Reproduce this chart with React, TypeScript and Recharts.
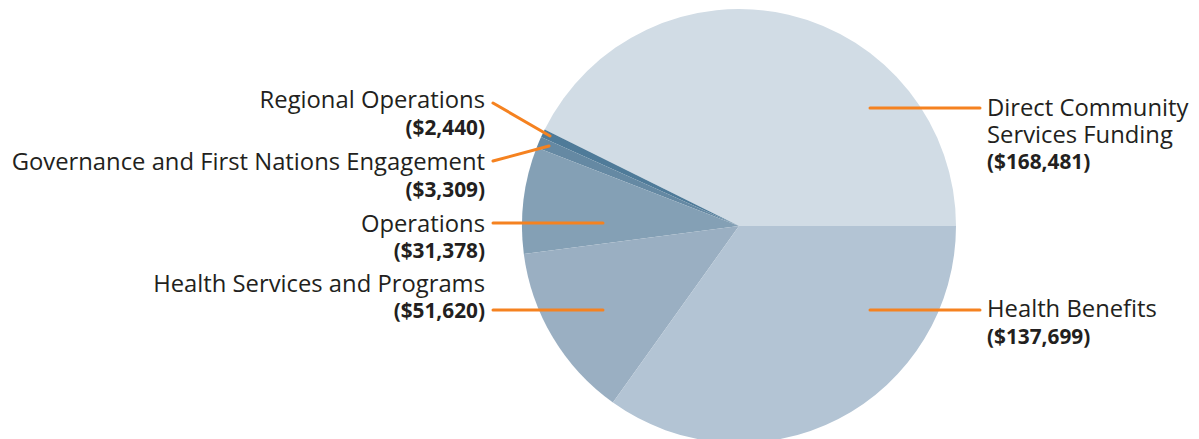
import { Cell, Pie, PieChart } from "recharts";

const categories = [
  "Direct Community Services Funding",
  "Regional Operations",
  "Governance and First Nations Engagement",
  "Operations",
  "Health Services and Programs",
  "Health Benefits",
];
const amounts = [168481, 2440, 3309, 31378, 51620, 137699];
const valueLabels = ["($168,481)", "($2,440)", "($3,309)", "($31,378)", "($51,620)", "($137,699)"];
const colors = ["#d1dce5", "#4f7b99", "#6589a3", "#84a0b5", "#9aafc2", "#b3c4d4"];

const data = categories.map((name, i) => ({ name, value: amounts[i] }));

// label layout relative to pie centre: line inner point, line outer point, text lines
type LabelSpot = {
  inner: [number, number];
  outer: [number, number];
  side: "left" | "right";
  lines: string[];
  baseY: number;
};

const spots: LabelSpot[] = [
  { inner: [131, -118], outer: [241, -118], side: "right", lines: ["Direct Community", "Services Funding"], baseY: -110 },
  { inner: [-189, -90], outer: [-246, -123], side: "left", lines: ["Regional Operations"], baseY: -118 },
  { inner: [-190, -80], outer: [-246, -65], side: "left", lines: ["Governance and First Nations Engagement"], baseY: -56 },
  { inner: [-136, -3], outer: [-246, -3], side: "left", lines: ["Operations"], baseY: 5.5 },
  { inner: [-136, 84], outer: [-246, 84], side: "left", lines: ["Health Services and Programs"], baseY: 65.5 },
  { inner: [131, 84], outer: [241, 84], side: "right", lines: ["Health Benefits"], baseY: 91 },
];

const LINE_H = 26.7;

function renderLabel(props: any) {
  const { cx, cy, index } = props;
  const s = spots[index];
  const tx = s.side === "right" ? cx + 248 : cx - 254;
  const anchor = s.side === "right" ? "start" : "end";
  const rows = [...s.lines, valueLabels[index]];
  return (
    <g key={`lbl-${index}`}>
      <line
        x1={cx + s.inner[0]}
        y1={cy + s.inner[1]}
        x2={cx + s.outer[0]}
        y2={cy + s.outer[1]}
        stroke="#f58220"
        strokeWidth={3}
        strokeLinecap="round"
      />
      {rows.map((t, k) => {
        const bold = k === rows.length - 1;
        return (
          <text
            key={k}
            x={tx}
            y={cy + s.baseY + k * LINE_H}
            textAnchor={anchor}
            fill="#231f20"
            fontSize={bold ? 20.8 : 23.8}
            fontWeight={bold ? 700 : 400}
            fontFamily="'Open Sans', sans-serif"
          >
            {t}
          </text>
        );
      })}
    </g>
  );
}

export default function App() {
  return (
    <div style={{ width: 1199, height: 439, background: "#fff" }}>
      <style>{`body{margin:0;}`}</style>
      <PieChart width={1199} height={439} margin={{ top: 0, right: 0, bottom: 0, left: 0 }}>
        <Pie
          data={data}
          dataKey="value"
          nameKey="name"
          cx={739}
          cy={226}
          outerRadius={217}
          startAngle={0}
          endAngle={360}
          stroke="none"
          label={renderLabel}
          labelLine={false}
          isAnimationActive={false}
        >
          {data.map((d, i) => (
            <Cell key={d.name} fill={colors[i]} />
          ))}
        </Pie>
      </PieChart>
    </div>
  );
}
